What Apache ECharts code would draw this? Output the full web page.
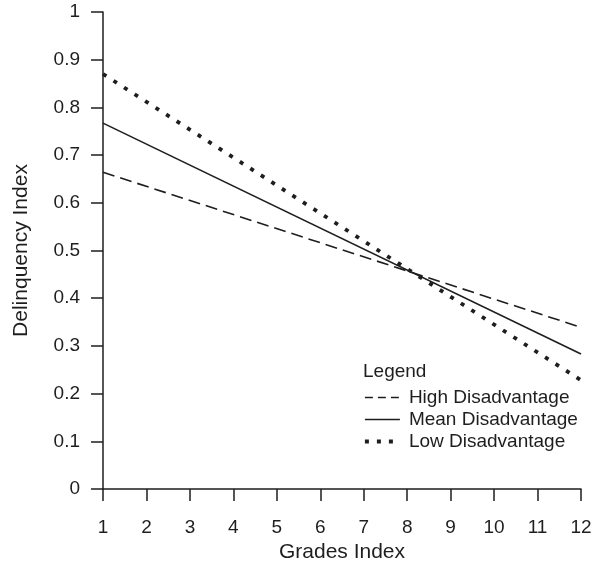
<!DOCTYPE html>
<html>
<head>
<meta charset="utf-8">
<script src="https://cdn.jsdelivr.net/npm/echarts@6/dist/echarts.min.js"></script>
<style>
  html, body { margin: 0; padding: 0; background: #fff; }
  #chart { width: 596px; height: 562px; }
</style>
</head>
<body>
<div id="chart"></div>
<script>
// grade index at the two ends of each fitted line
const gradePoints = [1, 12];
const highDisadvantage = [0.664, 0.339];
const meanDisadvantage = [0.767, 0.283];
const lowDisadvantage = [0.870, 0.228];
const seriesNames = ['High Disadvantage', 'Mean Disadvantage', 'Low Disadvantage'];

const font = 'Liberation Sans, Arial, sans-serif';
const ink = '#1e1e1e';

const toPairs = (vals) => gradePoints.map((g, i) => [g, vals[i]]);

const myChart = echarts.init(document.getElementById('chart'));

const options = {
  animation: false,
  backgroundColor: '#fff',
  grid: { left: 103, right: 15, top: 12, bottom: 73, outerBoundsMode: 'none', containLabel: false },
  xAxis: {
    type: 'value',
    min: 1, max: 12, interval: 1,
    name: 'Grades Index',
    nameLocation: 'middle',
    nameGap: 50,
    nameTextStyle: { fontFamily: font, fontSize: 21, color: ink },
    axisLine: { show: true, lineStyle: { color: ink, width: 1.5 } },
    axisTick: { show: true, length: 12, lineStyle: { color: ink, width: 1.5 } },
    axisLabel: { margin: 29, fontFamily: font, fontSize: 19, color: ink },
    splitLine: { show: false }
  },
  yAxis: {
    type: 'value',
    min: 0, max: 1, interval: 0.1,
    name: 'Delinquency Index',
    nameLocation: 'middle',
    nameGap: 71,
    nameTextStyle: { fontFamily: font, fontSize: 21, color: ink },
    axisLine: { show: true, lineStyle: { color: ink, width: 1.5 } },
    axisTick: { show: true, length: 12, lineStyle: { color: ink, width: 1.5 } },
    axisLabel: {
      margin: 23, fontFamily: font, fontSize: 19, color: ink,
      formatter: (v) => String(Math.round(v * 10) / 10)
    },
    splitLine: { show: false }
  },
  legend: {
    left: 358, top: 383,
    orient: 'vertical',
    itemWidth: 35, itemHeight: 12, itemGap: 3,
    itemStyle: { opacity: 0 },
    textStyle: { fontFamily: font, fontSize: 19, color: ink, padding: [0, 0, 0, 4] },
    data: [
      { name: seriesNames[0], lineStyle: { width: 1.6, type: [8, 5] } },
      { name: seriesNames[1], lineStyle: { width: 1.6 } },
      { name: seriesNames[2], lineStyle: { width: 3.8, type: [4, 8] } }
    ]
  },
  graphic: [{
    type: 'text',
    left: 363, top: 362,
    style: { text: 'Legend', font: '19px ' + font, fill: ink }
  }],
  series: [
    {
      name: seriesNames[0], type: 'line', data: toPairs(highDisadvantage),
      symbol: 'none', color: ink,
      lineStyle: { color: ink, width: 1.6, type: [12, 6] }
    },
    {
      name: seriesNames[1], type: 'line', data: toPairs(meanDisadvantage),
      symbol: 'none', color: ink,
      lineStyle: { color: ink, width: 1.6, type: 'solid' }
    },
    {
      name: seriesNames[2], type: 'line', data: toPairs(lowDisadvantage),
      symbol: 'none', color: ink,
      lineStyle: { color: ink, width: 3.8, type: [4, 8.5] }
    }
  ]
};
myChart.setOption(options);
</script>
</body>
</html>
